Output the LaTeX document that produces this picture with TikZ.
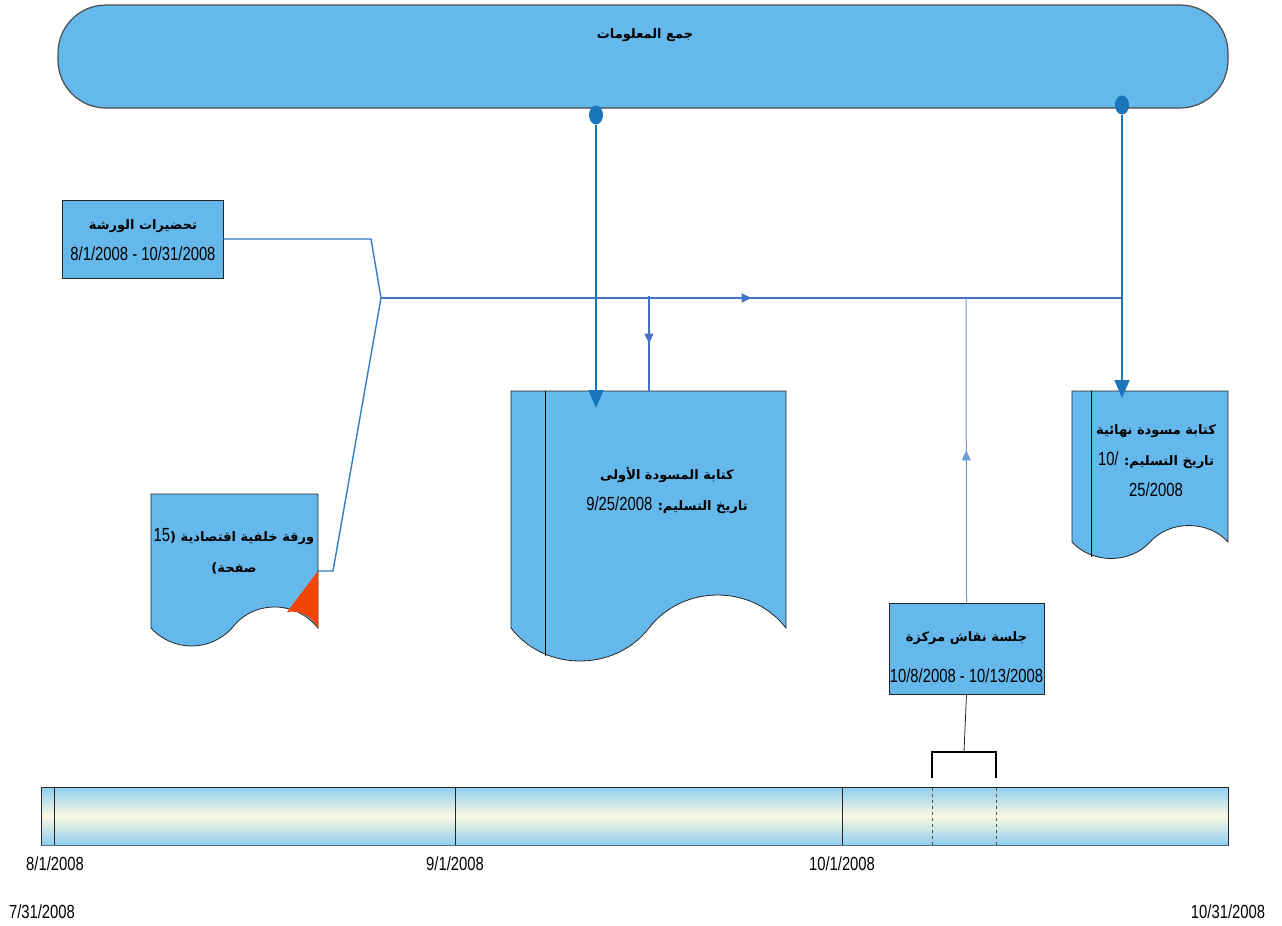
\documentclass[tikz,border=0pt]{standalone}
\usepackage{fontspec}
\setmainfont{Liberation Sans}[FakeStretch=0.78]
\newfontfamily\arabicfont[Script=Arabic]{DejaVu Sans}
\TeXXeTstate=1
\usetikzlibrary{arrows.meta,positioning,shapes.geometric,decorations.markings}
\definecolor{skyfill}{HTML}{65B8EC}
\definecolor{pinblue}{HTML}{1A76BC}
\definecolor{flowblue}{HTML}{4472C4}
\definecolor{linkblue}{HTML}{2F7DC6}
\definecolor{paleblue}{HTML}{6E9CDA}
\definecolor{foldred}{HTML}{F24405}
\definecolor{bartop}{HTML}{8FCDF0}
\definecolor{barmid}{HTML}{FBF9E1}
\definecolor{baredge}{HTML}{50708A}
\newcommand{\arab}[1]{{\arabicfont\bfseries\fontsize{13}{31}\selectfont #1}}

\begin{document}
\begin{tikzpicture}[x=1pt,y=-1pt,
    box/.style={draw=black!85,fill=skyfill,line width=.8pt},
    txt/.style={align=center,inner sep=0pt,font=\fontsize{19}{31}\selectfont},
    pin/.style={ellipse,fill=pinblue,minimum width=14pt,minimum height=19pt,inner sep=0pt},
    drop/.style={pinblue,line width=1.8pt,-{Triangle[length=18pt,width=15pt]}},
    link/.style={linkblue,line width=1.4pt},
    midtip/.style={postaction={decorate},decoration={markings,
      mark=at position .5 with {\arrow{Triangle[length=10pt,width=9pt]}}}}
  ]
  \useasboundingbox (0,0) rectangle (1282,926);

  % banner on top
  \node[box,draw=black!70,line width=1.2pt,rounded corners=48pt,
    minimum width=1170pt,minimum height=103pt] (banner) at (643,56.5) {};
  \node[txt] (bannertxt) at (645,35) {\beginR\arab{جمع المعلومات}\endR};

  % boxes
  \node[box,minimum width=161pt,minimum height=78pt] (prep) at (142.5,239) {};
  \node[txt] (preptxt) at (143,240) {\beginR\arab{تحضيرات الورشة}\endR\\8/1/2008 - 10/31/2008};
  \node[box,minimum width=155pt,minimum height=91pt] (focus) at (966.5,648.5) {};
  \node[txt] (focustxt) at (966.5,657) {\beginR\arab{جلسة نقاش مركزة}\endR\\[10pt]10/8/2008 - 10/13/2008};

  % documents
  \draw[box] (151,494) -- (318,494) -- (318,628)
    .. controls (296,600) and (253,600) .. (232,628)
    .. controls (210,652) and (173,652) .. (151,628) -- cycle;
  \fill[foldred] (318,571) -- (287,612) .. controls (300,610) and (312,616) .. (318,628) -- cycle;
  \node[txt] (docA) at (234,551) {\beginR\arab{ورقة خلفية اقتصادية (}\beginL15\endL\endR\\\beginR\arab{صفحة)}\endR};

  \draw[box] (511,391) -- (786,391) -- (786,628)
    .. controls (752,584) and (683,584) .. (649,628)
    .. controls (615,672) and (545,672) .. (511,628) -- cycle;
  \draw[black,line width=.8pt] (545,391) -- (545,656);
  \node[txt] (docB) at (667,490) {\beginR\arab{كتابة المسودة الأولى}\endR\\\beginR\arab{تاريخ التسليم:} \beginL9/25/2008\endL\endR};

  \draw[box] (1072,391) -- (1228,391) -- (1228,542)
    .. controls (1208,520) and (1170,520) .. (1150,542)
    .. controls (1130,564) and (1092,564) .. (1072,542) -- cycle;
  \draw[black,line width=.8pt] (1091,391) -- (1091,557);
  \node[txt] (docC) at (1156,461) {\beginR\arab{كتابة مسودة نهائية}\endR\\\beginR\arab{تاريخ التسليم:} \beginL10/\endL\endR\\25/2008};

  % timeline bar
  \node[draw=black!85,line width=.8pt,top color=bartop,bottom color=bartop,middle color=barmid,
    minimum width=1187pt,minimum height=58pt,inner sep=0pt] (bar) at (634.5,816) {};
  \draw[baredge,line width=1.6pt] (bar.south west) -- (bar.south east);
  \foreach \x in {54,455,842}
    \draw[black!85,line width=.8pt] (\x,787) -- (\x,845);
  \draw[black!70,dashed] (932,788) -- (932,845);
  \draw[black!70,dashed] (996,788) -- (996,845);
  \node[txt] (d0801) at (55,864) {8/1/2008};
  \node[txt] (d0901) at (455,864) {9/1/2008};
  \node[txt] (d1001) at (842,864) {10/1/2008};
  \node[txt] (dstart) at (42,912) {7/31/2008};
  \node[txt] (dend) at (1228,912) {10/31/2008};

  % connectors
  \coordinate (join) at (381,298);
  \coordinate (busend) at (1122,298);
  \coordinate (docAout) at (318,571);
  \coordinate (docBin) at (596,408);
  \coordinate (docCin) at (1122,398);
  \coordinate (tapB) at (649,296);
  \coordinate (docBtap) at (649,391);
  \coordinate (tapF) at (966,298);
  \coordinate (brk) at (964,752);
  \node[pin] (pinA) at (596,115) {};
  \node[pin] (pinB) at (1122,105) {};
  \draw[link] (prep.east) -- (371,239) -- (join);
  \draw[link] (docAout) -- (333,571) -- (join);
  \draw[flowblue,line width=1.8pt,midtip] (join) -- (busend);
  \draw[flowblue,line width=1.5pt,midtip] (tapB) -- (docBtap);
  \draw[paleblue,line width=1pt,midtip] (focus.north) -- (tapF);
  \draw[drop] (pinA.south) -- (docBin);
  \draw[drop] (pinB.south) -- (docCin);
  \draw[black!85,line width=.8pt] (focus.south) -- (brk);
  \draw[black,line width=2pt] (932,778) -- (932,752) -- (996,752) -- (996,778);
\end{tikzpicture}
\end{document}
